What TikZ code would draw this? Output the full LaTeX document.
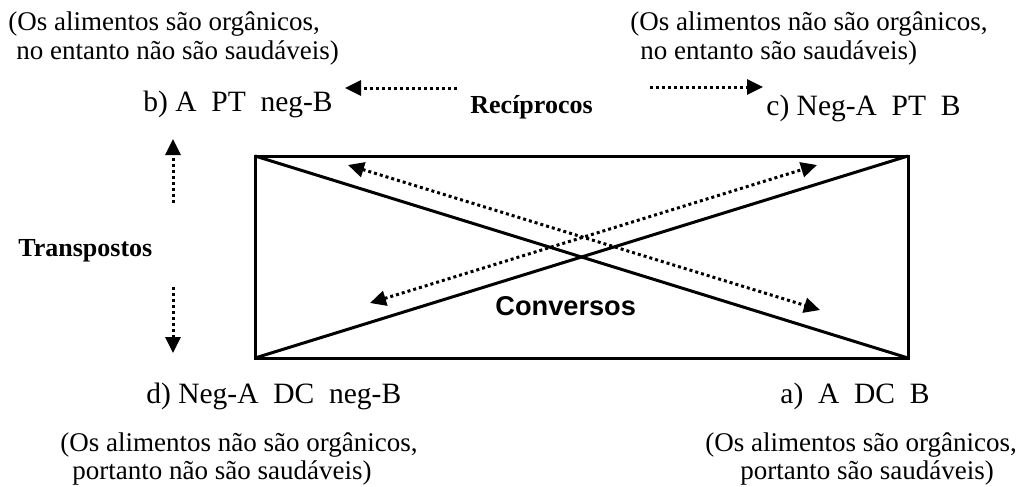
\documentclass[tikz,border=0pt]{standalone}
\usepackage{fontspec}
\setmainfont{Liberation Serif}
\newfontfamily\arialfont{Liberation Sans}
\usetikzlibrary{arrows.meta}

\tikzset{
  lbl/.style={anchor=base west, inner sep=0pt, font=\fontsize{14.75}{17}\selectfont},
  obs/.style={anchor=base west, inner sep=0pt, font=\fontsize{13.5}{16}\selectfont},
  tag/.style={anchor=base west, inner sep=0pt, font=\fontsize{13}{15}\selectfont\bfseries},
  dotarrow/.style={line width=1.5pt, dash pattern=on 1.5pt off 1.5pt, -{Triangle[length=8pt,width=7.5pt]}},
  dotboth/.style={line width=1.5pt, dash pattern=on 1.5pt off 1.5pt, {Triangle[length=8pt,width=7.5pt]}-{Triangle[length=8pt,width=7.5pt]}}
}

\begin{document}
\begin{tikzpicture}[x=0.5pt,y=-0.5pt]
\useasboundingbox (0,0) rectangle (1024,487);

% box with its diagonals
\coordinate (tl) at (255,156);
\coordinate (br) at (908,358);
\coordinate (tr) at (908,156);
\coordinate (bl) at (255,358);
\draw [line width=1.5pt] (tl) rectangle (br);
\draw [line width=1.5pt] (tl) -- (br);
\draw [line width=1.5pt] (bl) -- (tr);

% the four propositions
\node [lbl] (b) at (143,111) {b) A\ \ PT\ \ neg-B};
\node [lbl] (c) at (766,115) {c) Neg-A\ \ PT\ \ B};
\node [lbl] (d) at (146,403) {d) Neg-A\ \ DC\ \ neg-B};
\node [lbl] (a) at (780,403) {a)\ \ A\ \ DC\ \ B};

\node [obs] (b1) at (8,31) {(Os alimentos são orgânicos,};
\node [obs] (b2) at (16,59) {no entanto não são saudáveis)};
\node [obs] (c1) at (630,31) {(Os alimentos não são orgânicos,};
\node [obs] (c2) at (640,59) {no entanto são saudáveis)};
\node [obs] (d1) at (60,451) {(Os alimentos não são orgânicos,};
\node [obs] (d2) at (72,479) {portanto não são saudáveis)};
\node [obs] (a1) at (705,451) {(Os alimentos são orgânicos,};
\node [obs] (a2) at (740,479) {portanto são saudáveis)};

% relations
\node [tag] (rec) at (470,113) {Recíprocos};
\node [tag] (tra) at (18,256) {Transpostos};
\node [anchor=base west, inner sep=0pt, font=\arialfont\fontsize{13.6}{15}\selectfont\bfseries] (con) at (495,315) {Conversos};

\coordinate (recl1) at (457,88);
\coordinate (recl2) at (345,88);
\coordinate (recr1) at (650,87);
\coordinate (recr2) at (763,87);
\draw [dotarrow] (recl1) -- (recl2);
\draw [dotarrow] (recr1) -- (recr2);

\coordinate (trau1) at (173,203);
\coordinate (trau2) at (173,139);
\coordinate (trad1) at (173,287);
\coordinate (trad2) at (173,353);
\draw [dotarrow] (trau1) -- (trau2);
\draw [dotarrow] (trad1) -- (trad2);

\coordinate (conA1) at (348,165);
\coordinate (conA2) at (820,310);
\coordinate (conB1) at (370,303);
\coordinate (conB2) at (817,165);
\draw [dotboth] (conA1) -- (conA2);
\draw [dotboth] (conB1) -- (conB2);
\end{tikzpicture}
\end{document}
